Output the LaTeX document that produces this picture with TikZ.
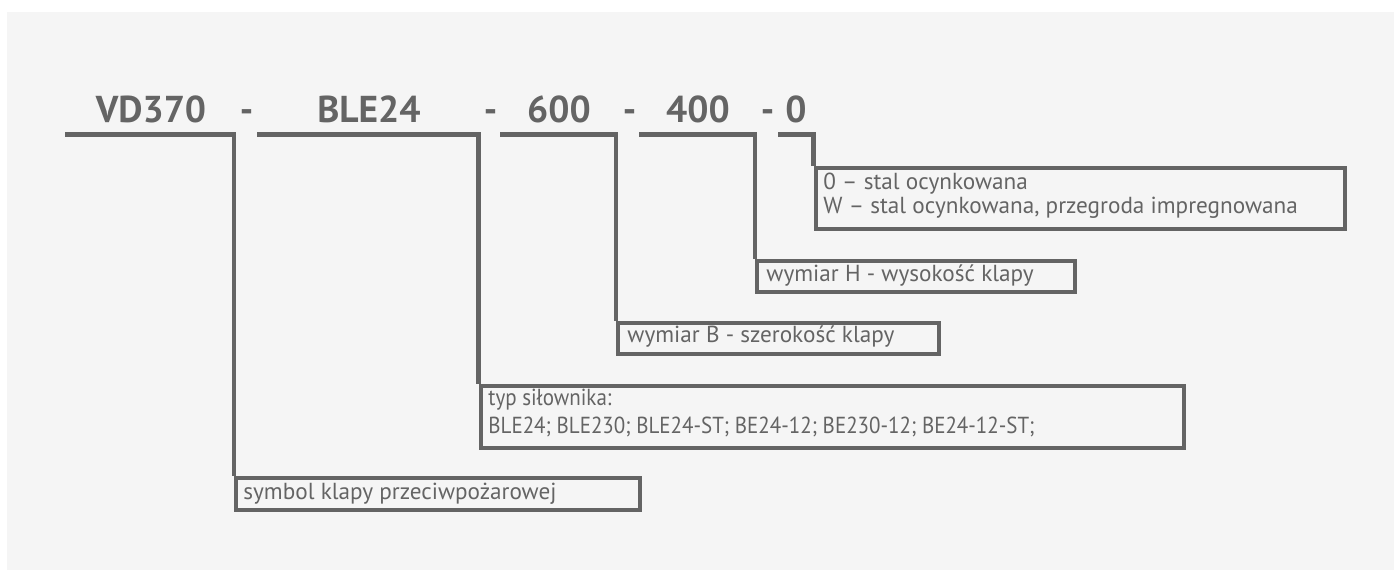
\documentclass[tikz,border=0pt]{standalone}
\usepackage{fontspec}
\setmainfont{PT Sans}
\usetikzlibrary{positioning}
\definecolor{szary}{HTML}{646464}
\definecolor{tlo}{HTML}{F5F5F5}

\begin{document}
\begin{tikzpicture}[x=0.5pt,y=-0.5pt,line join=miter,
  kod/.style={anchor=base,inner sep=0pt,text=szary,font=\bfseries\fontsize{18.7}{20}\selectfont},
  opis/.style={anchor=base west,inner sep=0pt,text=szary,align=left,font=\fontsize{11.6}{12}\selectfont},
  ramka/.style={draw=szary,line width=2.2pt,anchor=north west,inner sep=0pt},
  linia/.style={draw=szary,line width=2.2pt}]
\useasboundingbox (0,0) rectangle (1394,570);
\fill[tlo] (7,12) rectangle (1394,570);

\node[kod] (kVD) at (151,122) {VD370};
\node[kod] (m1) at (246.5,122) {-};
\node[kod] (kBLE) at (369,122) {BLE24};
\node[kod] (m2) at (490.5,122) {-};
\node[kod] (k600) at (559,122) {600};
\node[kod] (m3) at (629.5,122) {-};
\node[kod] (k400) at (698,122) {400};
\node[kod] (m4) at (767.5,122) {-};
\node[kod] (k0) at (796,122) {0};

\node[ramka,minimum width=202pt,minimum height=16pt] (sym) at (234,476) {};
\node[ramka,minimum width=351.75pt,minimum height=31.25pt] (typ) at (478.5,383.5) {};
\node[ramka,minimum width=160.5pt,minimum height=15.5pt] (wB) at (616,321) {};
\node[ramka,minimum width=159pt,minimum height=15.5pt] (wH) at (755,258.5) {};
\node[ramka,minimum width=264.75pt,minimum height=30.5pt] (zero) at (813.5,165.5) {};

\node[opis] (symt) at ([shift={(9,23)}]sym.north west) {symbol klapy przeciwpożarowej};
\node[opis,font=\fontsize{11.6}{13.8}\selectfont\addfontfeature{FakeStretch=0.905}] (typt) at ([shift={(9.5,49.5)}]typ.north west)
  {typ siłownika:\\BLE24; BLE230; BLE24-ST; BE24-12; BE230-12; BE24-12-ST;};
\node[opis] (wBt) at ([shift={(11,21)}]wB.north west) {wymiar B - szerokość klapy};
\node[opis] (wHt) at ([shift={(11,22.5)}]wH.north west) {wymiar H - wysokość klapy};
\node[opis] (zerot) at ([shift={(9.5,47.5)}]zero.north west)
  {0 – stal ocynkowana\\W – stal ocynkowana, przegroda impregnowana};

\coordinate (p1) at (65,134.5);
\coordinate (p2) at (257,134.5);
\coordinate (p3) at (500,134.5);
\coordinate (p4) at (639,134.5);
\coordinate (p5) at (778,134.5);
\draw[linia] (p1) -| (sym.north west);
\draw[linia] (p2) -| (typ.north west);
\draw[linia] (p3) -| (wB.north west);
\draw[linia] (p4) -| (wH.north west);
\draw[linia] (p5) -| (zero.north west);
\end{tikzpicture}
\end{document}
